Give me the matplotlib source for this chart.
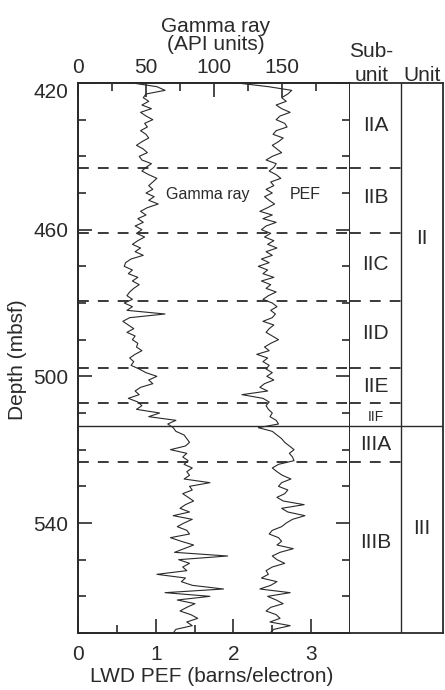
import numpy as np
import matplotlib
matplotlib.use('Agg')
import matplotlib.pyplot as plt
from matplotlib.ticker import MultipleLocator

plt.rcParams['font.family'] = ['Liberation Sans', 'DejaVu Sans']

# depth samples every 1 m (mbsf)
depth = np.arange(420, 571, 1)

# gamma ray (API units)
gamma = [40, 58, 64, 50, 48, 52, 47, 54, 46, 50,
         55, 49, 51, 46, 50, 52, 47, 43, 48, 51,
         45, 47, 54, 50, 47, 52, 58, 55, 52, 55,
         50, 56, 52, 59, 51, 46, 50, 44, 48, 42,
         47, 43, 49, 44, 40, 46, 42, 48, 39, 35,
         34, 40, 37, 44, 40, 45, 41, 38, 36, 40,
         34, 40, 36, 64, 38, 33, 37, 41, 36, 42,
         40, 44, 43, 47, 42, 38, 41, 39, 45, 50,
         58, 52, 55, 46, 42, 45, 37, 44, 47, 43,
         60, 52, 72, 66, 70, 72, 78, 80, 82, 79,
         68, 80, 77, 81, 78, 84, 80, 82, 78, 97,
         82, 84, 77, 81, 85, 79, 75, 82, 70, 84,
         78, 73, 80, 82, 68, 76, 85, 78, 71, 110,
         74, 82, 77, 80, 58, 79, 76, 84, 107, 64,
         97, 73, 86, 80, 75, 83, 88, 80, 84, 72,
         70]

# LWD PEF (barns/electron)
pef = [2.05, 2.45, 2.75, 2.70, 2.62, 2.68, 2.55, 2.62, 2.73, 2.60,
       2.55, 2.66, 2.69, 2.55, 2.51, 2.64, 2.58, 2.50, 2.56, 2.62,
       2.50, 2.42, 2.55, 2.52, 2.46, 2.55, 2.61, 2.48, 2.52, 2.42,
       2.50, 2.40, 2.46, 2.53, 2.44, 2.34, 2.50, 2.38, 2.55, 2.42,
       2.36, 2.48, 2.40, 2.52, 2.44, 2.56, 2.42, 2.50, 2.36, 2.46,
       2.32, 2.44, 2.38, 2.52, 2.36, 2.48, 2.42, 2.55, 2.45, 2.38,
       2.50, 2.56, 2.48, 2.54, 2.50, 2.38, 2.52, 2.46, 2.42, 2.50,
       2.58, 2.48, 2.40, 2.46, 2.30, 2.44, 2.38, 2.46, 2.42, 2.50,
       2.43, 2.52, 2.40, 2.34, 2.44, 2.11, 2.38, 2.46, 2.42, 2.45,
       2.50, 2.47, 2.55, 2.58, 2.32, 2.50, 2.56, 2.62, 2.66, 2.72,
       2.78, 2.72, 2.76, 2.78, 2.58, 2.50, 2.56, 2.63, 2.74, 2.62,
       2.58, 2.70, 2.66, 2.56, 2.64, 2.91, 2.62, 2.70, 2.92, 2.76,
       2.68, 2.62, 2.50, 2.46, 2.58, 2.62, 2.56, 2.77, 2.60, 2.50,
       2.56, 2.66, 2.50, 2.42, 2.45, 2.36, 2.56, 2.48, 2.34, 2.73,
       2.44, 2.55, 2.64, 2.48, 2.42, 2.55, 2.60, 2.47, 2.73, 2.52,
       2.47]

subunit_bounds = [443.2, 460.8, 479.4, 497.7, 507.3, 523.4]
unit_bound = 513.5
subunits = ['IIA', 'IIB', 'IIC', 'IID', 'IIE', 'IIF', 'IIIA', 'IIIB']
subunit_depth = [431.5, 451.1, 469.6, 488.2, 502.9, 511.0, 518.7, 545.2]
units = ['II', 'III']
unit_depth = [462.3, 541.4]

ink = '#2a2a2a'
W, H = 445, 690


def box(x0, y0, x1, y1):
    return [x0 / W, 1 - y1 / H, (x1 - x0) / W, (y1 - y0) / H]


fig = plt.figure(figsize=(4.45, 6.9), dpi=100)

ax = fig.add_axes(box(78, 83, 350, 633))
ax.set_xlim(0, 3.5)
ax.set_ylim(570, 420)
ax2 = ax.twiny()
ax2.set_xlim(0, 200)

ax.plot(pef, depth, color=ink, lw=0.8)
ax2.plot(gamma, depth, color=ink, lw=0.8)

for d in subunit_bounds:
    ax.axhline(d, color=ink, lw=1.3, dashes=(6, 5))
ax.axhline(unit_bound, color=ink, lw=1.0)

ax2.text(65, 450.5, 'Gamma ray', fontsize=11.5, va='center', color=ink)
ax.text(2.73, 450.5, 'PEF', fontsize=11.5, va='center', color=ink)

for a in (ax, ax2):
    for s in a.spines.values():
        s.set_linewidth(1.3)
        s.set_color(ink)

ax.set_xticks([0, 1, 2, 3])
ax.xaxis.set_minor_locator(MultipleLocator(0.5))
ax.set_yticks([420, 460, 500, 540])
ax.set_yticklabels(['', '460', '500', '540'])
ax.yaxis.set_minor_locator(MultipleLocator(10))
ax.tick_params(axis='x', which='both', direction='in', top=False, bottom=True,
               labelsize=15, pad=9, colors=ink, width=1.2)
ax.tick_params(axis='y', which='both', direction='in', left=True, right=True,
               labelsize=15, pad=7, colors=ink, width=1.2)
ax.tick_params(which='major', length=10)
ax.tick_params(which='minor', length=6)
ax.text(-10 / 272, 422.6, '420', transform=ax.get_yaxis_transform(),
        ha='right', va='center', fontsize=15, color=ink)

ax2.set_xticks([0, 50, 100, 150])
ax2.xaxis.set_minor_locator(MultipleLocator(25))
ax2.tick_params(axis='x', which='both', direction='in', top=True, bottom=False,
                labelsize=15, pad=4, colors=ink, width=1.2)
ax2.tick_params(which='major', length=10)
ax2.tick_params(which='minor', length=6)

fig.text(216 / W, 1 - 32 / H, 'Gamma ray', ha='center', va='baseline', fontsize=15, color=ink)
fig.text(216 / W, 1 - 50 / H, '(API units)', ha='center', va='baseline', fontsize=15, color=ink)
fig.text(212 / W, 1 - 682 / H, 'LWD PEF (barns/electron)', ha='center', va='baseline',
         fontsize=15, color=ink)
fig.text(18 / W, 1 - 360 / H, 'Depth (mbsf)', rotation=90, ha='center', va='center',
         fontsize=15, color=ink)
fig.text(371 / W, 1 - 57 / H, 'Sub-', ha='center', va='baseline', fontsize=15, color=ink)
fig.text(372 / W, 1 - 81 / H, 'unit', ha='center', va='baseline', fontsize=15, color=ink)
fig.text(422 / W, 1 - 81 / H, 'Unit', ha='center', va='baseline', fontsize=15, color=ink)

# sub-unit / unit columns
uax = fig.add_axes(box(350, 83, 443, 633))
uax.set_xlim(0, 93)
uax.set_ylim(570, 420)
uax.set_xticks([])
uax.set_yticks([])
uax.spines['left'].set_visible(False)
for k in ('top', 'right', 'bottom'):
    uax.spines[k].set_linewidth(1.3)
    uax.spines[k].set_color(ink)
uax.axvline(51, color=ink, lw=1.0)
for d in subunit_bounds:
    uax.plot([0, 51], [d, d], color=ink, lw=1.3, dashes=(6, 5))
uax.axhline(unit_bound, color=ink, lw=1.0)

for name, d in zip(subunits, subunit_depth):
    uax.text(25.5, d, name, ha='center', va='center', color=ink,
             fontsize=10 if name == 'IIF' else 15)
for name, d in zip(units, unit_depth):
    uax.text(72, d, name, ha='center', va='center', fontsize=15, color=ink)

fig.savefig('out.png', dpi=100)
